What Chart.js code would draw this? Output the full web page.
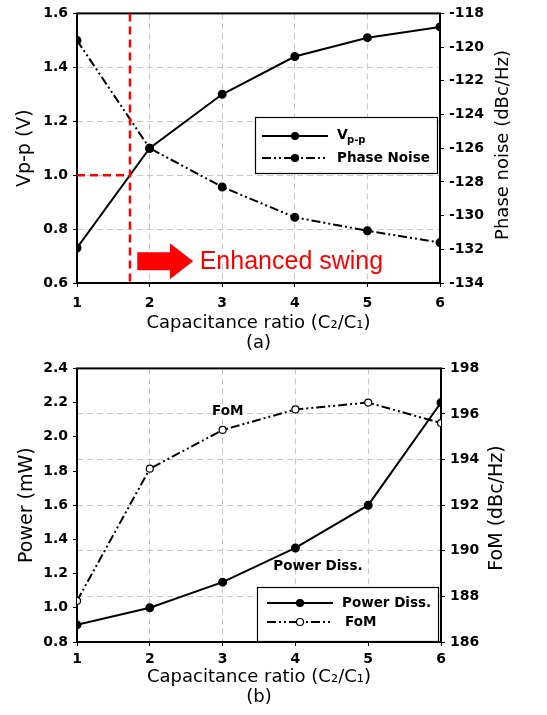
<!DOCTYPE html>
<html lang="en">
<head>
<meta charset="UTF-8">
<title>Capacitance ratio</title>
<script src="https://cdn.jsdelivr.net/npm/chart.js"></script>
<style>
  body { margin: 0; background: #fff; }
  canvas { display: block; }
</style>
</head>
<body>
<canvas id="chartA" width="547" height="355"></canvas>
<canvas id="chartB" width="547" height="360"></canvas>
<script>
// values
const ratio = [1, 2, 3, 4, 5, 6];
const vpp = [0.73, 1.10, 1.30, 1.44, 1.51, 1.55];
const phaseNoise = [-119.6, -126.0, -128.3, -130.1, -130.9, -131.6];
const power = [0.90, 1.00, 1.15, 1.35, 1.60, 2.20];
const fom = [187.8, 193.6, 195.3, 196.2, 196.5, 195.6];

const markerRatio = 1.73;   // red dashed marker, Vp-p = 1.0 V
const markerVpp = 1.0;

Chart.defaults.font.family = 'DejaVu Sans';
Chart.defaults.color = '#000';

const tickFont = { family: 'DejaVu Sans', size: 14, weight: 'bold' };
const gridGray = '#c8c8c8';
const dashDot = [9, 3, 2, 3, 2, 3];

function pts(ys) {
    return ratio.map((x, i) => ({ x: x, y: ys[i] }));
}

function xAxis(label, height, padBottom, tickPad) {
    return {
        type: 'linear', min: 1, max: 6,
        ticks: { stepSize: 1, padding: tickPad, font: tickFont, color: '#000' },
        grid: { color: gridGray, tickColor: '#000', tickLength: 4, tickBorderDash: [] },
        border: { display: false, dash: [6, 4] },
        title: {
            display: true, text: ['Capacitance ratio (C\u2082/C\u2081)', label],
            font: { size: 18, lineHeight: 1.1 }, color: '#000',
            padding: { top: 0, bottom: padBottom }
        },
        afterFit: s => { s.height = height; }
    };
}

// frame round the plot area
const frame = {
    id: 'frame',
    beforeDatasetsDraw(chart) {
        const a = chart.chartArea, ctx = chart.ctx;
        ctx.save();
        ctx.strokeStyle = '#000';
        ctx.lineWidth = 2;
        ctx.strokeRect(a.left, a.top, a.right - a.left, a.bottom - a.top);
        ctx.restore();
    }
};

// rotated title on the right side (reads bottom to top)
function rightTitle(text, size, cx, cy) {
    return {
        id: 'rightTitle',
        afterDraw(chart) {
            const ctx = chart.ctx;
            ctx.save();
            ctx.translate(cx, cy);
            ctx.rotate(-Math.PI / 2);
            ctx.font = size + 'px "DejaVu Sans"';
            ctx.fillStyle = '#000';
            ctx.textAlign = 'center';
            ctx.textBaseline = 'middle';
            ctx.fillText(text, 0, 0);
            ctx.restore();
        }
    };
}

function legendRow(ctx, x1, x2, y, dash, open) {
    ctx.save();
    ctx.strokeStyle = '#000';
    ctx.lineWidth = 2;
    ctx.setLineDash(dash);
    ctx.beginPath();
    ctx.moveTo(x1, y);
    ctx.lineTo(x2, y);
    ctx.stroke();
    ctx.setLineDash([]);
    ctx.beginPath();
    ctx.arc((x1 + x2) / 2, y, 3.5, 0, Math.PI * 2);
    ctx.fillStyle = open ? '#fff' : '#000';
    ctx.fill();
    ctx.lineWidth = 1.2;
    ctx.stroke();
    ctx.restore();
}

function legendBox(ctx, x, y, w, h) {
    ctx.save();
    ctx.fillStyle = '#fff';
    ctx.fillRect(x, y, w, h);
    ctx.strokeStyle = '#000';
    ctx.lineWidth = 1.2;
    ctx.strokeRect(x, y, w, h);
    ctx.restore();
}

const legendA = {
    id: 'legendA',
    afterDraw(chart) {
        const ctx = chart.ctx;
        legendBox(ctx, 255.5, 117.5, 182, 56);
        legendRow(ctx, 262, 328, 136, [], false);
        legendRow(ctx, 262, 328, 158, dashDot, false);
        ctx.save();
        ctx.fillStyle = '#000';
        ctx.textBaseline = 'middle';
        ctx.font = 'bold 14px "DejaVu Sans"';
        ctx.fillText('V', 337, 135);
        ctx.font = 'bold 10px "DejaVu Sans"';
        ctx.fillText('p-p', 347, 140);
        ctx.font = 'bold 13.5px "DejaVu Sans"';
        ctx.fillText('Phase Noise', 337, 158);
        ctx.restore();
    }
};

// red marker lines, arrow and "Enhanced swing"
const swing = {
    id: 'swing',
    afterDatasetsDraw(chart) {
        const ctx = chart.ctx, a = chart.chartArea;
        const xs = chart.scales.x, ys = chart.scales.y;
        const mx = xs.getPixelForValue(markerRatio);
        const my = ys.getPixelForValue(markerVpp);
        ctx.save();
        ctx.strokeStyle = '#ff0000';
        ctx.lineWidth = 2.5;
        ctx.setLineDash([8, 5]);
        ctx.beginPath();
        ctx.moveTo(mx, a.top);
        ctx.lineTo(mx, a.bottom);
        ctx.moveTo(a.left, my);
        ctx.lineTo(mx, my);
        ctx.stroke();
        ctx.setLineDash([]);

        const x0 = xs.getPixelForValue(1.83), x1 = xs.getPixelForValue(2.28), x2 = xs.getPixelForValue(2.60);
        const cy = ys.getPixelForValue(0.681);
        ctx.fillStyle = '#ff0000';
        ctx.beginPath();
        ctx.moveTo(x0, cy - 9);
        ctx.lineTo(x1, cy - 9);
        ctx.lineTo(x1, cy - 18);
        ctx.lineTo(x2, cy);
        ctx.lineTo(x1, cy + 18);
        ctx.lineTo(x1, cy + 9);
        ctx.lineTo(x0, cy + 9);
        ctx.closePath();
        ctx.fill();

        ctx.font = '25px "Liberation Sans"';
        ctx.textBaseline = 'middle';
        ctx.fillText('Enhanced swing', xs.getPixelForValue(2.69), cy + 1);
        ctx.restore();
    }
};

const legendB = {
    id: 'legendB',
    afterDraw(chart) {
        const ctx = chart.ctx;
        legendBox(ctx, 257.5, 232.5, 181, 54);
        legendRow(ctx, 267, 333, 248, [], false);
        legendRow(ctx, 267, 333, 267, dashDot, true);
        ctx.save();
        ctx.fillStyle = '#000';
        ctx.textBaseline = 'middle';
        ctx.font = 'bold 13.5px "DejaVu Sans"';
        ctx.fillText('Power Diss.', 342, 248);
        ctx.fillText('FoM', 345, 267);

        // labels next to the curves
        const xs = chart.scales.x;
        ctx.textAlign = 'center';
        ctx.fillText('FoM', xs.getPixelForValue(3.07), chart.scales.y2.getPixelForValue(196.1));
        ctx.fillText('Power Diss.', xs.getPixelForValue(4.31), chart.scales.y.getPixelForValue(1.24));
        ctx.restore();
    }
};

new Chart(document.getElementById('chartA'), {
    type: 'line',
    data: {
        datasets: [{
            label: 'Vp-p',
            data: pts(vpp),
            yAxisID: 'y',
            borderColor: '#000', borderWidth: 2,
            pointRadius: 3.5, pointBackgroundColor: '#000', pointBorderColor: '#000',
            fill: false, tension: 0
        }, {
            label: 'Phase Noise',
            data: pts(phaseNoise),
            yAxisID: 'y2',
            borderColor: '#000', borderWidth: 2, borderDash: dashDot,
            pointRadius: 3.5, pointBackgroundColor: '#000', pointBorderColor: '#000',
            fill: false, tension: 0
        }]
    },
    options: {
        responsive: false,
        animation: false,
        devicePixelRatio: 1,
        layout: { padding: { top: 10, left: 0, right: 0, bottom: 0 } },
        plugins: { legend: { display: false }, tooltip: { enabled: false } },
        scales: {
            x: xAxis('(a)', 72, 2, 8),
            y: {
                position: 'left', min: 0.6, max: 1.6,
                ticks: { stepSize: 0.2, padding: 5, font: tickFont, color: '#000', callback: v => v.toFixed(1) },
                grid: { color: gridGray, tickColor: '#000', tickLength: 4, tickBorderDash: [] },
                border: { display: false, dash: [6, 4] },
                title: { display: true, text: 'Vp-p (V)', font: { size: 19 }, color: '#000', padding: { top: 14, bottom: 0 } },
                afterFit: s => { s.width = 77; }
            },
            y2: {
                position: 'right', min: -134, max: -118,
                ticks: { stepSize: 2, padding: 5, font: tickFont, color: '#000' },
                grid: { drawOnChartArea: false, tickColor: '#000', tickLength: 4 },
                border: { display: false },
                afterFit: s => { s.width = 107; }
            }
        }
    },
    plugins: [frame, swing, legendA, rightTitle('Phase noise (dBc/Hz)', 18, 503, 145)]
});

new Chart(document.getElementById('chartB'), {
    type: 'line',
    data: {
        datasets: [{
            label: 'Power Diss.',
            data: pts(power),
            yAxisID: 'y',
            borderColor: '#000', borderWidth: 2,
            pointRadius: 3.5, pointBackgroundColor: '#000', pointBorderColor: '#000',
            fill: false, tension: 0
        }, {
            label: 'FoM',
            data: pts(fom),
            yAxisID: 'y2',
            borderColor: '#000', borderWidth: 2, borderDash: dashDot,
            pointRadius: 3.5, pointBackgroundColor: '#fff', pointBorderColor: '#000', pointBorderWidth: 1.2,
            fill: false, tension: 0
        }]
    },
    options: {
        responsive: false,
        animation: false,
        devicePixelRatio: 1,
        layout: { padding: { top: 13, left: 0, right: 0, bottom: 0 } },
        plugins: { legend: { display: false }, tooltip: { enabled: false } },
        scales: {
            x: xAxis('(b)', 73, 8, 5),
            y: {
                position: 'left', min: 0.8, max: 2.4,
                ticks: { stepSize: 0.2, padding: 5, font: tickFont, color: '#000', callback: v => v.toFixed(1) },
                grid: { drawOnChartArea: false, tickColor: '#000', tickLength: 4 },
                border: { display: false },
                title: { display: true, text: 'Power (mW)', font: { size: 19 }, color: '#000', padding: { top: 16, bottom: 0 } },
                afterFit: s => { s.width = 77; }
            },
            y2: {
                position: 'right', min: 186, max: 198,
                ticks: { stepSize: 2, padding: 5, font: tickFont, color: '#000' },
                grid: { color: gridGray, tickColor: '#000', tickLength: 4, tickBorderDash: [] },
                border: { display: false, dash: [6, 4] },
                afterFit: s => { s.width = 106; }
            }
        }
    },
    plugins: [frame, legendB, rightTitle('FoM (dBc/Hz)', 19, 497, 153)]
});
</script>
</body>
</html>
